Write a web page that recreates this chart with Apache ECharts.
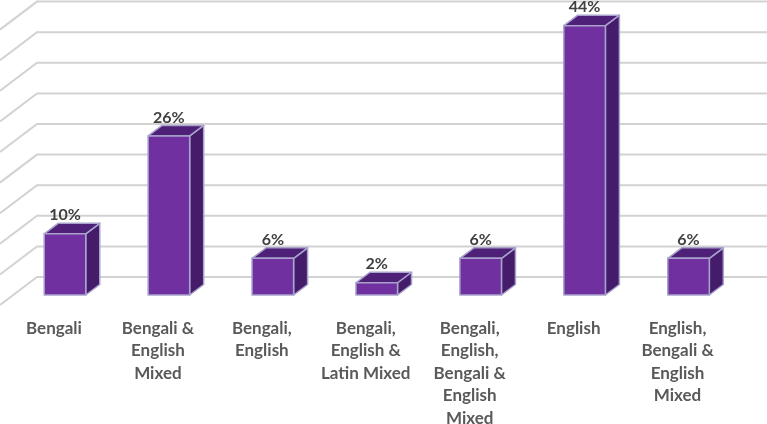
<!DOCTYPE html>
<html><head><meta charset="utf-8">
<style>html,body{margin:0;padding:0;background:#fff}#c{width:767px;height:424px}</style>
<script src="https://cdn.jsdelivr.net/npm/echarts@6/dist/echarts.min.js"></script>
</head><body><div id="c"></div>
<script>
const categories = ["Bengali","Bengali &\nEnglish\nMixed","Bengali,\nEnglish","Bengali,\nEnglish &\nLatin Mixed","Bengali,\nEnglish,\nBengali &\nEnglish\nMixed","English","English,\nBengali &\nEnglish\nMixed"];
const shares = [10,26,6,2,6,44,6];
const wallTicks = [0,5,10,15,20,25,30,35,40,45];

const chart = echarts.init(document.getElementById('c'));
const FLOOR = {dx:-24, dy:18};
const DEPTH = {dx:14, dy:-10.5};
const FONT = 'Lato, "Open Sans", sans-serif';

function renderWall(params, api){
  const p = api.coord([0, api.value(0)]);
  const x0 = params.coordSys.x;
  return {type:'polyline', silent:true,
    shape:{points:[[x0-37, p[1]+28],[x0,p[1]],[api.getWidth(),p[1]]]},
    style:{stroke:'#d2d2d2', lineWidth:2, fill:null}};
}
function renderBar(params, api){
  const top = api.coord([api.value(0), api.value(1)]);
  const base = api.coord([api.value(0), 0]);
  const w = api.size([1,0])[0]*0.4;
  const l = top[0]+FLOOR.dx-w/2, r = l+w;
  const t = top[1]+FLOOR.dy, b = base[1]+FLOOR.dy;
  const dx = DEPTH.dx, dy = DEPTH.dy;
  const edge = {stroke:'#a8a2cc', lineWidth:1.5, lineJoin:'round'};
  return {type:'group', children:[
    {type:'polygon', shape:{points:[[r,t],[r+dx,t+dy],[r+dx,b+dy],[r,b]]}, style:{fill:'#451c69',...edge}},
    {type:'polygon', shape:{points:[[l,t],[l+dx,t+dy],[r+dx,t+dy],[r,t]]}, style:{fill:'#4f2078',...edge}},
    {type:'rect', shape:{x:l,y:t,width:w,height:b-t}, style:{fill:'#7030a0',...edge}},
    {type:'text', x:l+w/2, y:t+dy, style:{text:api.value(1)+'%', fill:'#404040',
      fontFamily:FONT, fontWeight:'bold', fontSize:16, align:'center', verticalAlign:'bottom'}}
  ]};
}
chart.setOption({
  animation:false,
  backgroundColor:'#fff',
  grid:{left:37, top:1.6, width:727.5, height:275.4, outerBoundsMode:'none', containLabel:false},
  xAxis:{type:'category', data:categories,
    axisLine:{show:false}, axisTick:{show:false}, splitLine:{show:false},
    axisLabel:{interval:0, margin:40, color:'#595959', fontFamily:FONT, fontWeight:'bold',
      fontSize:17, lineHeight:22.5, align:'center', verticalAlign:'top', padding:[0,70,0,0], overflow:'none'}},
  yAxis:{type:'value', min:0, max:45, interval:5,
    axisLine:{show:false}, axisTick:{show:false}, axisLabel:{show:false}, splitLine:{show:false}},
  series:[
    {type:'custom', name:'wall', renderItem:renderWall, data:wallTicks.map(v=>[v]), encode:{y:0}, z:1, silent:true},
    {type:'custom', name:'share', renderItem:renderBar,
      data:categories.map((c,i)=>[i,shares[i]]), encode:{x:0,y:1}, z:2}
  ]
});
</script></body></html>
